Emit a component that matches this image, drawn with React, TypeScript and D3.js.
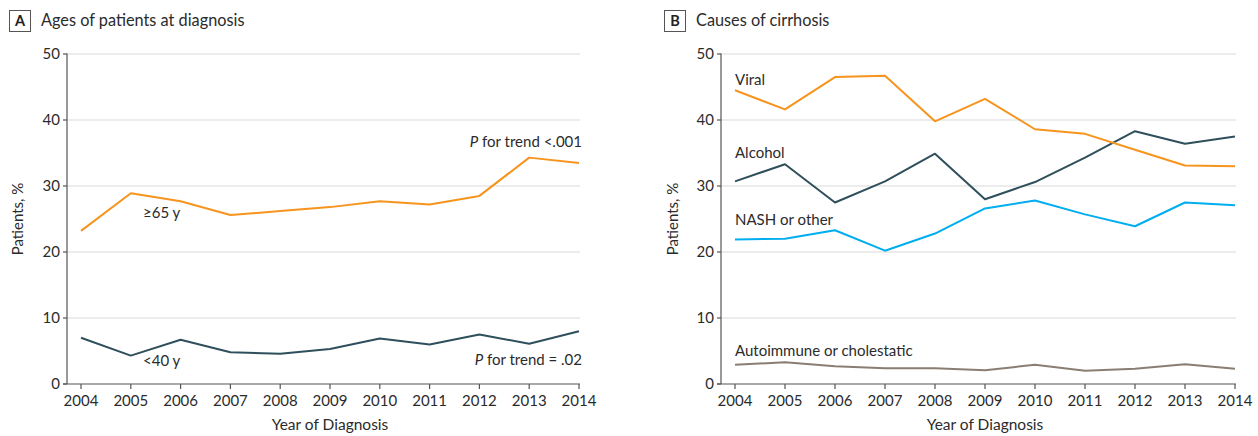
import React from 'react';
import * as d3 from 'd3';

const years = [2004, 2005, 2006, 2007, 2008, 2009, 2010, 2011, 2012, 2013, 2014];
const yTicks = [0, 10, 20, 30, 40, 50];

// panel A: ages at diagnosis
const age65 = [23.2, 28.9, 27.7, 25.6, 26.2, 26.8, 27.7, 27.2, 28.5, 34.3, 33.5];
const age40 = [7.0, 4.3, 6.7, 4.8, 4.6, 5.3, 6.9, 6.0, 7.5, 6.1, 8.0];

// panel B: causes of cirrhosis
const viral = [44.5, 41.6, 46.5, 46.7, 39.8, 43.2, 38.6, 37.9, 35.5, 33.1, 33.0];
const alcohol = [30.7, 33.3, 27.5, 30.7, 34.9, 28.0, 30.6, 34.3, 38.3, 36.4, 37.5];
const nash = [21.9, 22.0, 23.3, 20.2, 22.8, 26.6, 27.8, 25.7, 23.9, 27.5, 27.1];
const autoimmune = [2.9, 3.3, 2.7, 2.4, 2.4, 2.1, 2.9, 2.0, 2.3, 3.0, 2.3];

const ORANGE = '#f7941d';
const DARK = '#2f4f5c';
const BLUE = '#00aeef';
const BROWN = '#8a7e73';

const font = 'Lato, "Open Sans", sans-serif';
const textColor = '#2b2b2b';
const fs = 15;

type Series = { values: number[]; color: string };
type Label = { text: string; x: number; y: number; anchor?: string; italicP?: boolean };

function Panel(props: {
  letter: string;
  title: string;
  left: number;
  axisX: number;
  x0: number;
  x1: number;
  series: Series[];
  labels: Label[];
}) {
  const { letter, title, left, axisX, x0, x1, series, labels } = props;
  const x = d3.scaleLinear().domain([2004, 2014]).range([x0, x1]);
  const y = d3.scaleLinear().domain([0, 50]).range([384, 54]);
  const line = d3
    .line<number>()
    .x((d, i) => x(years[i]))
    .y(d => y(d));
  const right = x1 + 1;
  return (
    <g>
      <rect x={left + 0.5} y={10.5} width={21} height={21} fill="none" stroke="#555" strokeWidth={1} />
      <text x={left + 11} y={26} textAnchor="middle" fontWeight="bold" fontSize={14.5} fill="#222">{letter}</text>
      <text x={left + 32} y={26} fontSize={16.3} fill={textColor}>{title}</text>
      {yTicks.filter(t => t > 0).map(t => (
        <line key={'g' + t} x1={axisX} x2={right} y1={y(t)} y2={y(t)} stroke="#d9d9d9" strokeWidth={1.2} />
      ))}
      <line x1={axisX} x2={axisX} y1={y(50) - 0.5} y2={y(0)} stroke="#555" strokeWidth={1.2} />
      <line x1={axisX - 4} x2={right} y1={y(0)} y2={y(0)} stroke="#555" strokeWidth={1.2} />
      {yTicks.map(t => (
        <g key={'y' + t}>
          <line x1={axisX - 4} x2={axisX} y1={y(t)} y2={y(t)} stroke="#555" strokeWidth={1.2} />
          <text x={axisX - 7} y={y(t) + 5} textAnchor="end" fontSize={fs} fill={textColor}>{t}</text>
        </g>
      ))}
      {years.map(yr => (
        <g key={'x' + yr}>
          <line x1={x(yr)} x2={x(yr)} y1={y(0)} y2={y(0) + 5} stroke="#555" strokeWidth={1.2} />
          <text x={x(yr)} y={406} textAnchor="middle" fontSize={fs} fill={textColor}>{yr}</text>
        </g>
      ))}
      <text x={(x0 + x1) / 2} y={430} textAnchor="middle" fontSize={15.5} fill={textColor}>Year of Diagnosis</text>
      <text
        transform={`translate(${left + 14},${(y(0) + y(50)) / 2}) rotate(-90)`}
        textAnchor="middle"
        fontSize={fs}
        fill={textColor}
      >
        Patients, %
      </text>
      {series.map((s, i) => (
        <path key={'s' + i} d={line(s.values) || ''} fill="none" stroke={s.color} strokeWidth={2} strokeLinejoin="round" />
      ))}
      {labels.map((l, i) => (
        <text key={'l' + i} x={l.x} y={l.y} textAnchor={l.anchor || 'start'} fontSize={fs} fill={textColor}>
          {l.italicP ? (
            <>
              <tspan fontStyle="italic">P</tspan>
              {l.text}
            </>
          ) : (
            l.text
          )}
        </text>
      ))}
    </g>
  );
}

export default function App() {
  return (
    <svg
      width={1258}
      height={436}
      viewBox="0 0 1258 436"
      style={{ position: 'absolute', left: 0, top: 0, fontFamily: font }}
    >
      <Panel
        letter="A"
        title="Ages of patients at diagnosis"
        left={9}
        axisX={67}
        x0={81}
        x1={579}
        series={[
          { values: age65, color: ORANGE },
          { values: age40, color: DARK },
        ]}
        labels={[
          { text: '≥65 y', x: 143, y: 218 },
          { text: '<40 y', x: 143, y: 366 },
          { text: ' for trend <.001', x: 582, y: 147, anchor: 'end', italicP: true },
          { text: ' for trend = .02', x: 582, y: 365, anchor: 'end', italicP: true },
        ]}
      />
      <Panel
        letter="B"
        title="Causes of cirrhosis"
        left={664}
        axisX={721}
        x0={735}
        x1={1235}
        series={[
          { values: autoimmune, color: BROWN },
          { values: nash, color: BLUE },
          { values: alcohol, color: DARK },
          { values: viral, color: ORANGE },
        ]}
        labels={[
          { text: 'Viral', x: 735, y: 85 },
          { text: 'Alcohol', x: 735, y: 158 },
          { text: 'NASH or other', x: 735, y: 225 },
          { text: 'Autoimmune or cholestatic', x: 735, y: 356 },
        ]}
      />
    </svg>
  );
}
